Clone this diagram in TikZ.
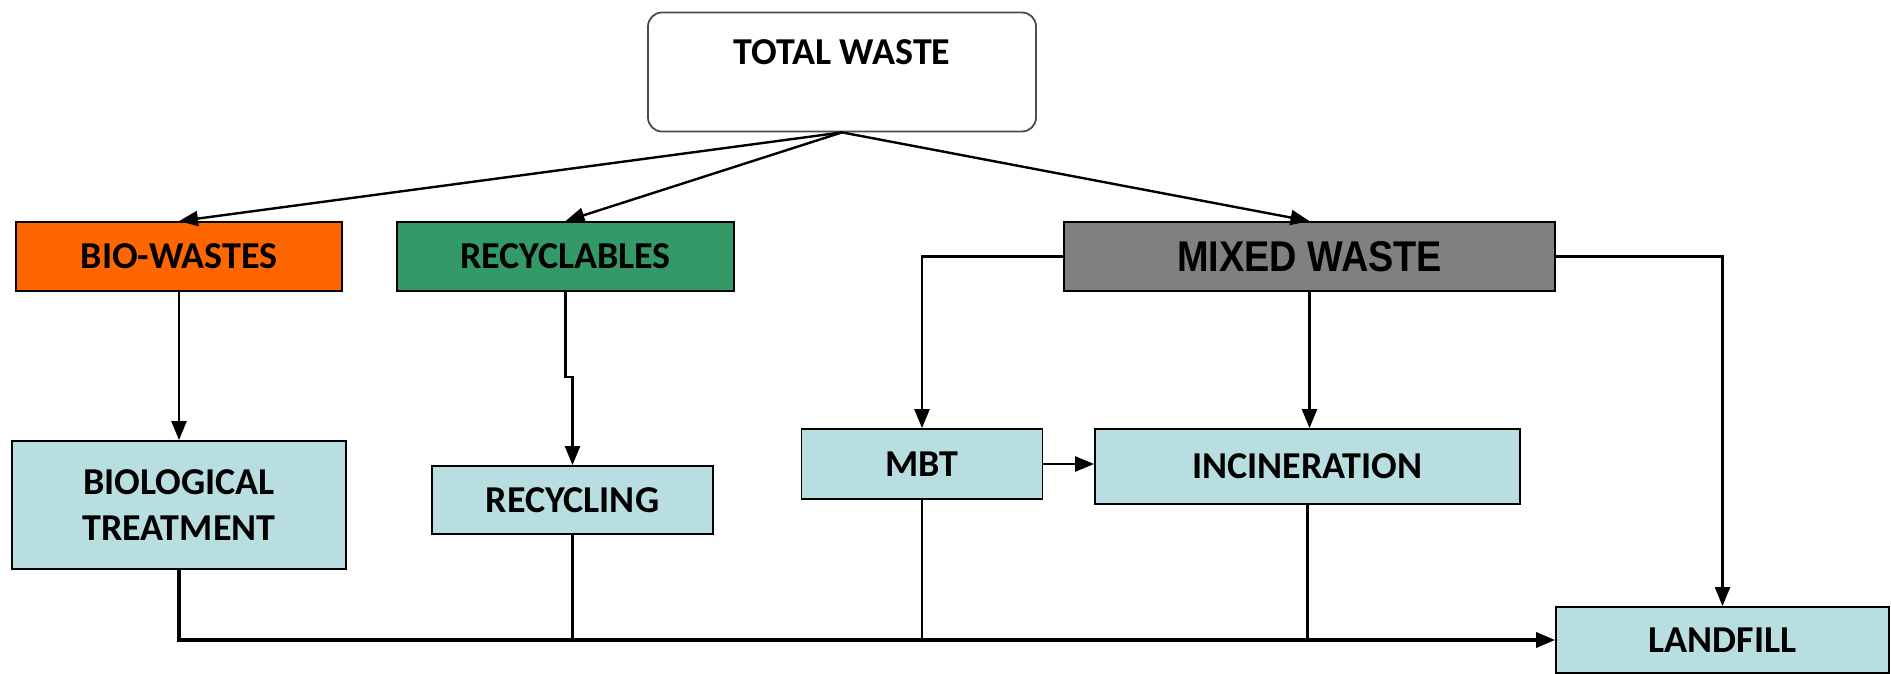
\documentclass[tikz,border=0pt]{standalone}
\usepackage{fontspec}
\setmainfont{Carlito}
\newfontfamily\mixedfont[FakeStretch=0.88]{Liberation Sans}
\usetikzlibrary{arrows.meta}

\definecolor{biocol}{RGB}{255,102,0}
\definecolor{reccol}{RGB}{51,153,102}
\definecolor{mixcol}{RGB}{128,128,128}
\definecolor{proccol}{RGB}{184,222,226}

\begin{document}
\begin{tikzpicture}[x=1pt,y=-1pt,>={Triangle[length=19pt,width=15pt]},
  box/.style={draw,line width=1.8pt,inner sep=0pt,align=center,
    font=\fontsize{38}{46}\selectfont\bfseries},
  proc/.style={box,fill=proccol},
  flow/.style={->,line width=2.4pt},
  bus/.style={line width=3.4pt}]
\useasboundingbox (0,0) rectangle (1891,674);

\node[box,rounded corners=14pt,draw=black!70,minimum width=388pt,minimum height=119pt,
  label={[yshift=20pt,font=\fontsize{38}{46}\selectfont\bfseries]center:TOTAL WASTE}] (tw) at (842,72) {};
\node[box,fill=biocol,minimum width=326pt,minimum height=69pt] (bio) at (179,256.5) {BIO-WASTES};
\node[box,fill=reccol,minimum width=337pt,minimum height=69pt] (rc) at (565.5,256.5) {RECYCLABLES};
\node[box,fill=mixcol,minimum width=491pt,minimum height=69pt,
  font=\fontsize{43}{50}\selectfont\mixedfont\bfseries] (mx) at (1309.5,256.5) {MIXED WASTE};

\node[proc,minimum width=334pt,minimum height=128pt] (bt) at (179,505) {BIOLOGICAL\\TREATMENT};
\node[proc,minimum width=281pt,minimum height=68pt] (rcy) at (572.5,500) {RECYCLING};
\node[proc,minimum width=241pt,minimum height=70pt] (mbt) at (922,464) {MBT};
\node[proc,minimum width=425pt,minimum height=75pt] (inc) at (1307.5,466.5) {INCINERATION};
\node[proc,minimum width=333pt,minimum height=66pt] (lf) at (1722.5,640) {LANDFILL};

\draw[flow] (tw.south) -- (bio.north);
\draw[flow] (tw.south) -- (rc.north);
\draw[flow] (tw.south) -- (mx.north);
\draw[flow] (bio.south) -- (bt.north);
\draw[flow] (rc.south) -- ++(0,85) -| (rcy.north);
\draw[flow] (mx.west) -| (mbt.north);
\draw[flow] (mx.south) -- (mx.south |- inc.north);
\draw[flow] (mx.east) -| (lf.north);
\draw[flow] (mbt.east) -- (mbt.east -| inc.west);

\draw[bus,->] (bt.south) |- (lf.west);
\foreach \n in {rcy,mbt,inc}
  \draw[line width=2.4pt] (\n.south) -- (\n.south |- lf.west);
\end{tikzpicture}
\end{document}
